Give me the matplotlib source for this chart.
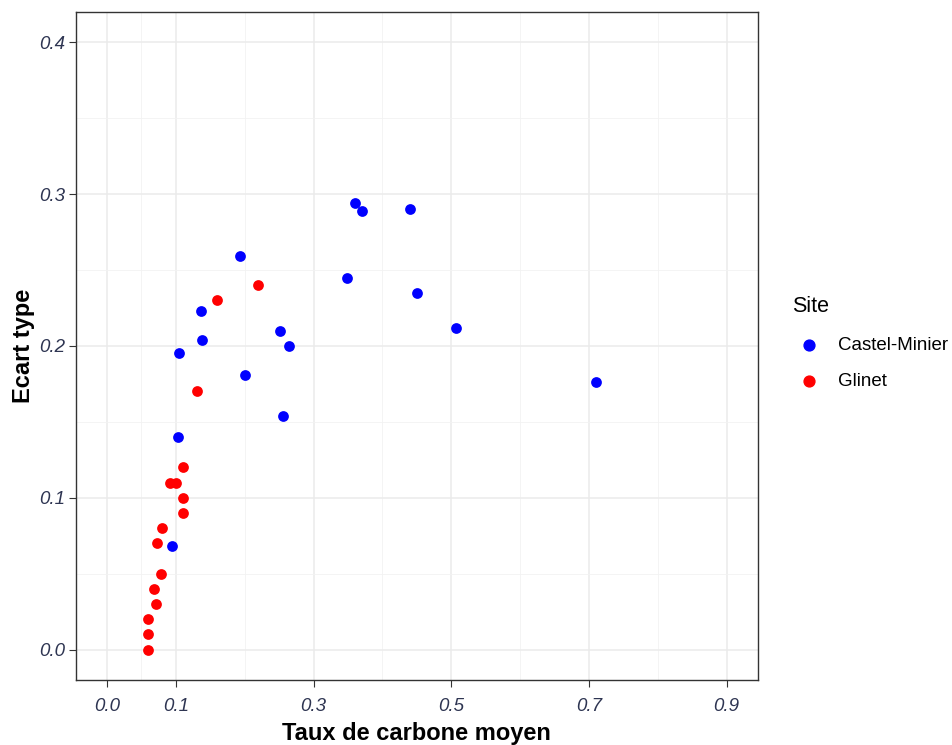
import matplotlib.pyplot as plt
from matplotlib.lines import Line2D

# Castel-Minier (bleu)
cm_x = [0.360, 0.371, 0.440, 0.193, 0.349, 0.451, 0.136, 0.138, 0.105, 0.251,
        0.265, 0.200, 0.255, 0.103, 0.507, 0.711, 0.094]
cm_y = [0.294, 0.289, 0.290, 0.259, 0.245, 0.235, 0.223, 0.204, 0.195, 0.210,
        0.200, 0.181, 0.154, 0.140, 0.212, 0.176, 0.068]

# Glinet (rouge)
gl_x = [0.220, 0.160, 0.131, 0.111, 0.091, 0.100, 0.111, 0.111, 0.080, 0.073,
        0.078, 0.069, 0.071, 0.060, 0.060, 0.060]
gl_y = [0.24, 0.23, 0.17, 0.12, 0.11, 0.11, 0.10, 0.09, 0.08, 0.07,
        0.05, 0.04, 0.03, 0.02, 0.01, 0.00]

sites = ['Castel-Minier', 'Glinet']
colors = ['#0000FF', '#FF0000']

x_ticks = [0.0, 0.1, 0.3, 0.5, 0.7, 0.9]
x_minor = [0.05, 0.2, 0.4, 0.6, 0.8]
y_ticks = [0.0, 0.1, 0.2, 0.3, 0.4]
y_minor = [0.05, 0.15, 0.25, 0.35]

plt.rcParams['font.family'] = ['Liberation Sans', 'DejaVu Sans']

fig = plt.figure(figsize=(9.52, 7.45), dpi=100)
ax = fig.add_axes([0.0798, 0.0872, 0.716, 0.897])

ax.scatter(cm_x, cm_y, s=60, color=colors[0], linewidths=0, zorder=3)
ax.scatter(gl_x, gl_y, s=60, color=colors[1], linewidths=0, zorder=3)

ax.set_xlim(-0.045, 0.945)
ax.set_ylim(-0.02, 0.42)
ax.set_xticks(x_ticks)
ax.set_xticklabels([f'{v:.1f}' for v in x_ticks])
ax.set_xticks(x_minor, minor=True)
ax.set_yticks(y_ticks)
ax.set_yticklabels([f'{v:.1f}' for v in y_ticks])
ax.set_yticks(y_minor, minor=True)

ax.grid(True, which='major', color='#EBEBEB', linewidth=1.1, zorder=0)
ax.grid(True, which='minor', color='#F2F2F2', linewidth=0.6, zorder=0)
ax.set_axisbelow(True)

ax.tick_params(which='major', direction='out', length=5, width=0.8, color='#333333',
               labelsize=13.5, labelcolor='#2E3552')
ax.tick_params(axis='x', which='major', pad=8)
ax.tick_params(axis='y', which='major', pad=3)
ax.tick_params(which='minor', length=0)
for lab in ax.get_xticklabels() + ax.get_yticklabels():
    lab.set_fontstyle('italic')

for sp in ax.spines.values():
    sp.set_color('#333333')
    sp.set_linewidth(1.0)

ax.set_xlabel('Taux de carbone moyen', fontsize=17, fontweight='bold', labelpad=5)
ax.set_ylabel('Ecart type', fontsize=17, fontweight='bold', labelpad=3)

# legende
fig.text(792 / 952, 1 - 307 / 745, 'Site', fontsize=15.5, va='center', ha='left')
for i, (name, c) in enumerate(zip(sites, colors)):
    yy = 1 - (345 + 36 * i) / 745
    fig.add_artist(Line2D([809 / 952], [yy], marker='o', linestyle='', color=c,
                          markersize=7.8, transform=fig.transFigure))
    fig.text(838 / 952, yy, name, fontsize=13.5, va='center', ha='left')

fig.savefig('out.png', dpi=100, facecolor='white')
